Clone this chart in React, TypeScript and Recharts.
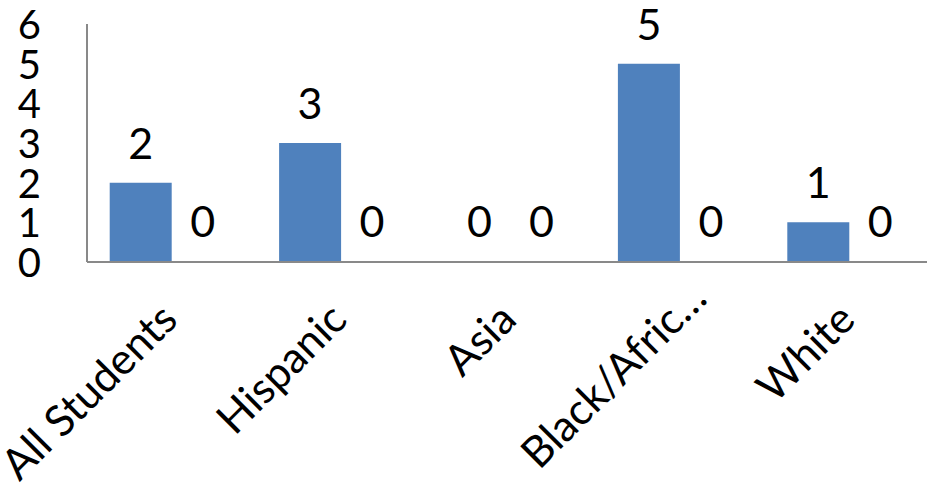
import React from "react";
import { BarChart, Bar, XAxis, YAxis, LabelList, Cell } from "recharts";

const categories = ["All Students", "Hispanic", "Asia", "Black/Afric…", "White"];
const seriesA = [2, 3, 0, 5, 1];
const seriesB = [0, 0, 0, 0, 0];
const yTicks = [0, 1, 2, 3, 4, 5, 6];

const data = categories.map((name, i) => ({ name, a: seriesA[i], b: seriesB[i] }));

const FONT = "Lato, 'Open Sans', sans-serif";
const BLUE = "#4F81BD";
const RED = "#C0504D";

const XTick = (props: any) => {
  const { x, y, payload } = props;
  const truncated = String(payload.value).endsWith("…");
  return (
    <g transform={`translate(${x + 8},${y})`}>
      <text
        textAnchor="end"
        transform="rotate(-45)"
        dx={truncated ? 30 : 0}
        fontSize={43}
        fontFamily={FONT}
        fill="#000"
      >
        {payload.value}
      </text>
    </g>
  );
};

const YTick = (props: any) => {
  const { x, y, payload } = props;
  return (
    <text x={x} y={y} textAnchor="end" dominantBaseline="central" fontSize={40} fontFamily={FONT} fill="#000">
      {payload.value}
    </text>
  );
};

const ValueLabel = (props: any) => {
  const { x, y, width, height, value } = props;
  const top = Math.min(y, y + height);
  return (
    <text x={x + width / 2} y={top - 24} textAnchor="middle" fontSize={43} fontFamily={FONT} fill="#000">
      {value}
    </text>
  );
};

export default function App() {
  return (
    <div style={{ position: "absolute", left: 0, top: 0, background: "#fff" }}>
      <BarChart
        width={927}
        height={491}
        data={data}
        margin={{ top: 24, right: -7, bottom: 0, left: 0 }}
        barCategoryGap="13.4%"
        barGap={0}
      >
        <XAxis
          dataKey="name"
          interval={0}
          height={229}
          tickSize={0}
          tickMargin={60}
          tick={<XTick />}
          axisLine={{ stroke: "#898989", strokeWidth: 2 }}
        />
        <YAxis
          domain={[0, 6]}
          ticks={yTicks}
          width={87}
          tickSize={0}
          tickMargin={46}
          tick={<YTick />}
          axisLine={{ stroke: "#898989", strokeWidth: 2 }}
        />
        <Bar dataKey="a" fill={BLUE} minPointSize={1} isAnimationActive={false}>
          {seriesA.map((v, i) => (
            <Cell key={i} fill={v === 0 ? "none" : BLUE} />
          ))}
          <LabelList dataKey="a" content={<ValueLabel />} />
        </Bar>
        <Bar dataKey="b" fill={RED} minPointSize={1} isAnimationActive={false}>
          {seriesB.map((v, i) => (
            <Cell key={i} fill={v === 0 ? "none" : RED} />
          ))}
          <LabelList dataKey="b" content={<ValueLabel />} />
        </Bar>
      </BarChart>
    </div>
  );
}
